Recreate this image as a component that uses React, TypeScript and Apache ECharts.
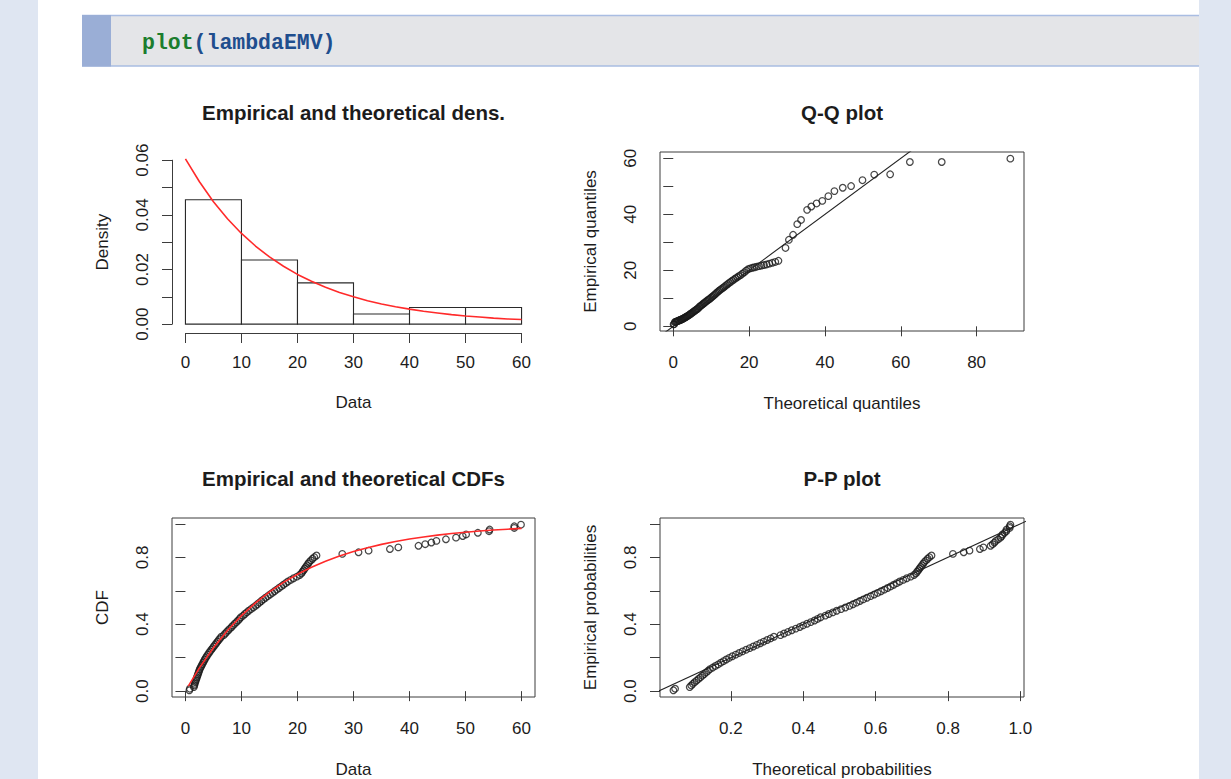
import { useEffect, useRef } from "react";
import * as echarts from "echarts";

const W = 1231;
const H = 779;
const FONT = '"Liberation Sans", Arial, Helvetica, sans-serif';
const MONO = '"Liberation Mono", "DejaVu Sans Mono", monospace';
const INK = "#1c1c1c";
const FRAME = "#3c3c3c";

// ---------- data ----------
// histogram (density scale)
const histBreaks = [0, 10, 20, 30, 40, 50, 60];
const histDensity = [0.0455, 0.0235, 0.0151, 0.0037, 0.0061, 0.0061];

// fitted (theoretical) density curve
const densCurveX = [0, 2.5, 5, 7.5, 10, 12.5, 15, 17.5, 20, 22.5, 25, 27.5, 30, 32.5, 35, 37.5, 40, 42.5, 45, 47.5, 50, 52.5, 55, 57.5, 60];
const densCurveY = [0.0605, 0.0521, 0.0448, 0.0386, 0.0332, 0.0286, 0.0246, 0.0212, 0.0182, 0.0157, 0.0135, 0.0116, 0.01, 0.0086, 0.0074, 0.0064, 0.0055, 0.0047, 0.0041, 0.0035, 0.003, 0.0026, 0.0022, 0.0019, 0.0017];

// fitted (theoretical) CDF curve
const cdfCurveX = [0.5, 2.5, 5, 7.5, 10, 12.5, 15, 17.5, 20, 22.5, 25, 27.5, 30, 32.5, 35, 37.5, 40, 42.5, 45, 47.5, 50, 52.5, 55, 57.5, 60];
const cdfCurveY = [0.0296, 0.1393, 0.2592, 0.3624, 0.4512, 0.5276, 0.5934, 0.6501, 0.6988, 0.7408, 0.7769, 0.808, 0.8347, 0.8577, 0.8775, 0.8946, 0.9093, 0.9219, 0.9328, 0.9422, 0.9502, 0.9571, 0.9631, 0.9682, 0.9727];

// sorted sample (empirical data)
const sampleSorted = [
  0.7, 0.78, 1.5, 1.58, 1.66, 1.75, 1.85, 1.95, 2.05, 2.15,
  2.25, 2.35, 2.45, 2.55, 2.7, 2.85, 3.0, 3.15, 3.3, 3.45,
  3.62, 3.8, 4.0, 4.2, 4.4, 4.62, 4.84, 5.06, 5.28, 5.5,
  5.72, 5.95, 6.18, 6.4, 6.85, 7.1, 7.38, 7.65, 7.95, 8.25,
  8.5, 8.8, 9.1, 9.4, 9.65, 9.9, 10.3, 10.6, 10.95, 11.3,
  11.7, 12.1, 12.5, 12.85, 13.2, 13.55, 13.9, 14.3, 14.7, 15.1,
  15.5, 15.9, 16.3, 16.7, 17.1, 17.5, 17.9, 18.3, 18.8, 19.3,
  19.9, 20.4, 20.7, 20.9, 21.1, 21.3, 21.5, 21.7, 21.9, 22.1,
  22.4, 22.7, 23.0, 23.4, 28.0, 30.9, 32.7, 36.5, 38.0, 41.6,
  42.8, 43.9, 44.8, 46.5, 48.3, 49.5, 50.1, 52.2, 54.2, 54.3,
  58.7, 58.7, 59.9,
];

// empirical probabilities (CDF y and P-P y)
const empiricalProbs = [
  0.0049, 0.0146, 0.0243, 0.034, 0.0437, 0.0534, 0.0631, 0.0728, 0.0825, 0.0922,
  0.1019, 0.1117, 0.1214, 0.1311, 0.1408, 0.1505, 0.1602, 0.1699, 0.1796, 0.1893,
  0.199, 0.2087, 0.2184, 0.2282, 0.2379, 0.2476, 0.2573, 0.267, 0.2767, 0.2864,
  0.2961, 0.3058, 0.3155, 0.3252, 0.335, 0.3447, 0.3544, 0.3641, 0.3738, 0.3835,
  0.3932, 0.4029, 0.4126, 0.4223, 0.432, 0.4417, 0.4515, 0.4612, 0.4709, 0.4806,
  0.4903, 0.5, 0.5097, 0.5194, 0.5291, 0.5388, 0.5485, 0.5583, 0.568, 0.5777,
  0.5874, 0.5971, 0.6068, 0.6165, 0.6262, 0.6359, 0.6456, 0.6553, 0.665, 0.6748,
  0.6845, 0.6942, 0.7039, 0.7136, 0.7233, 0.733, 0.7427, 0.7524, 0.7621, 0.7718,
  0.7816, 0.7913, 0.801, 0.8107, 0.8204, 0.8301, 0.8398, 0.8495, 0.8592, 0.8689,
  0.8786, 0.8883, 0.8981, 0.9078, 0.9175, 0.9272, 0.9369, 0.9466, 0.9563, 0.966,
  0.9757, 0.9854, 0.9951,
];

// theoretical quantiles (Q-Q x)
const theoreticalQuantiles = [
  0.08, 0.25, 0.41, 0.58, 0.75, 0.92, 1.09, 1.26, 1.44, 1.61,
  1.79, 1.97, 2.16, 2.34, 2.53, 2.72, 2.91, 3.1, 3.3, 3.5,
  3.7, 3.9, 4.11, 4.32, 4.53, 4.74, 4.96, 5.18, 5.4, 5.62,
  5.85, 6.08, 6.32, 6.56, 6.8, 7.04, 7.29, 7.55, 7.8, 8.06,
  8.33, 8.6, 8.87, 9.15, 9.43, 9.72, 10.01, 10.31, 10.61, 10.92,
  11.23, 11.55, 11.88, 12.21, 12.55, 12.9, 13.26, 13.62, 13.99, 14.37,
  14.75, 15.15, 15.56, 15.97, 16.4, 16.84, 17.29, 17.75, 18.23, 18.72,
  19.23, 19.75, 20.28, 20.84, 21.41, 22.01, 22.63, 23.27, 23.93, 24.63,
  25.35, 26.11, 26.91, 27.74, 29.6, 30.5, 31.6, 32.7, 33.7, 35.3,
  36.4, 37.8, 39.3, 40.9, 42.5, 44.7, 46.9, 49.9, 53.0, 57.2,
  62.4, 70.8, 88.9,
];

// theoretical probabilities (P-P x)
const theoreticalProbs = [
  0.0411, 0.0457, 0.0861, 0.0904, 0.0948, 0.0997, 0.1051, 0.1104, 0.1157, 0.121,
  0.1263, 0.1315, 0.1367, 0.1419, 0.1496, 0.1572, 0.1647, 0.1722, 0.1796, 0.187,
  0.1952, 0.2039, 0.2134, 0.2228, 0.232, 0.2421, 0.252, 0.2618, 0.2715, 0.2811,
  0.2905, 0.3002, 0.3098, 0.3189, 0.337, 0.3469, 0.3578, 0.3681, 0.3794, 0.3904,
  0.3995, 0.4102, 0.4207, 0.4311, 0.4396, 0.4479, 0.461, 0.4706, 0.4816, 0.4924,
  0.5044, 0.5162, 0.5276, 0.5374, 0.5471, 0.5565, 0.5657, 0.576, 0.586, 0.5959,
  0.6054, 0.6148, 0.6239, 0.6329, 0.6416, 0.6501, 0.6584, 0.6665, 0.6763, 0.6859,
  0.697, 0.706, 0.7112, 0.7146, 0.718, 0.7214, 0.7247, 0.728, 0.7313, 0.7345,
  0.7392, 0.7439, 0.7484, 0.7544, 0.8136, 0.8434, 0.8594, 0.8881, 0.8977, 0.9176,
  0.9233, 0.9282, 0.932, 0.9386, 0.9449, 0.9487, 0.9505, 0.9564, 0.9613, 0.9615,
  0.9705, 0.9705, 0.9725,
];

// reference line y = x (end values, clipped to the plot box)
const qqRefLine = [-10, 100];
const ppRefLine = [-0.1, 1.1];

// ticks and labels
const densXTicks = [0, 10, 20, 30, 40, 50, 60];
const densYLabels = [0, 0.02, 0.04, 0.06];
const qqXTicks = [0, 20, 40, 60, 80];
const qqYTicks = [0, 10, 20, 30, 40, 50, 60];
const qqYLabels = [0, 20, 40, 60];
const cdfXTicks = [0, 10, 20, 30, 40, 50, 60];
const probYTicks = [0, 0.2, 0.4, 0.6, 0.8, 1.0];
const probYLabels = [0, 0.4, 0.8];
const ppXTicks = [0.2, 0.4, 0.6, 0.8, 1.0];

const titles = [
  "Empirical and theoretical dens.",
  "Q-Q plot",
  "Empirical and theoretical CDFs",
  "P-P plot",
];

// ---------- layout ----------
type Panel = { left: number; top: number; width: number; height: number; xMin: number; xMax: number; yMin: number; yMax: number };
const P1: Panel = { left: 172, top: 152, width: 363, height: 179, xMin: -2.4, xMax: 62.4, yMin: -0.0025, yMax: 0.063 };
const P2: Panel = { left: 660, top: 152, width: 364, height: 179, xMin: -3.5, xMax: 92.5, yMin: -1.67, yMax: 62.27 };
const P3: Panel = { left: 172, top: 518, width: 363, height: 179, xMin: -2.4, xMax: 62.4, yMin: -0.035, yMax: 1.035 };
const P4: Panel = { left: 660, top: 518, width: 364, height: 179, xMin: 0.004, xMax: 1.01, yMin: -0.035, yMax: 1.035 };
const P1_AXIS_Y = 333;

const px = (p: Panel, v: number) => p.left + ((v - p.xMin) / (p.xMax - p.xMin)) * p.width;
const py = (p: Panel, v: number) => p.top + p.height - ((v - p.yMin) / (p.yMax - p.yMin)) * p.height;

const axisText = { color: INK, fontSize: 17, fontFamily: FONT };
const tickStyle = { show: true, length: 10, inside: false, lineStyle: { color: FRAME, width: 1 } };
const near = (arr: number[], v: number) => arr.some((a) => Math.abs(a - v) < 1e-9);

function gridOf(left: number, top: number, width: number, height: number, boxed: boolean) {
  return {
    left, top, width, height,
    containLabel: false,
    outerBoundsMode: "none",
    show: boxed,
    borderColor: FRAME,
    borderWidth: 1,
    backgroundColor: "rgba(0,0,0,0)",
  };
}

function hiddenAxis(gridIndex: number, min: number, max: number) {
  return { type: "value", gridIndex, min, max, show: false, splitLine: { show: false } };
}

function boxedX(gridIndex: number, p: Panel, ticks: number[], fmt: (v: number) => string, name: string) {
  return {
    type: "value", gridIndex, min: p.xMin, max: p.xMax, position: "bottom",
    axisLine: { show: false }, splitLine: { show: false },
    axisTick: { ...tickStyle, customValues: ticks },
    axisLabel: { ...axisText, margin: 23, customValues: ticks, formatter: fmt },
    name, nameLocation: "middle", nameGap: 64, nameTextStyle: { ...axisText },
  };
}

function boxedY(gridIndex: number, p: Panel, ticks: number[], labels: number[], fmt: (v: number) => string, name: string) {
  return {
    type: "value", gridIndex, min: p.yMin, max: p.yMax, position: "left",
    axisLine: { show: false }, splitLine: { show: false },
    axisTick: { ...tickStyle, customValues: ticks },
    axisLabel: { ...axisText, margin: 21, rotate: 90, customValues: labels, formatter: fmt },
    name, nameLocation: "middle", nameGap: 61, nameRotate: 90, nameTextStyle: { ...axisText },
  };
}

const scatterStyle = {
  type: "scatter",
  symbol: "circle",
  symbolSize: 6.6,
  itemStyle: { color: "rgba(0,0,0,0)", borderColor: "#1a1a1a", borderWidth: 1.25 },
  z: 2,
};

function buildOption() {
  const titleStyle = { color: INK, fontSize: 20.5, fontWeight: "bold", fontFamily: FONT };
  const panels = [P1, P2, P3, P4];

  const grids = [
    gridOf(P1.left, P1.top, P1.width, P1.height, false), // 0 histogram data
    gridOf(px(P1, 0), P1.top, px(P1, 60) - px(P1, 0), P1_AXIS_Y - P1.top, false), // 1 hist x axis
    gridOf(P1.left, py(P1, 0.06), P1.width, py(P1, 0) - py(P1, 0.06), false), // 2 hist y axis
    gridOf(P2.left, P2.top, P2.width, P2.height, true), // 3 QQ
    gridOf(P3.left, P3.top, P3.width, P3.height, true), // 4 CDF
    gridOf(P4.left, P4.top, P4.width, P4.height, true), // 5 PP
  ];

  const xAxis = [
    hiddenAxis(0, P1.xMin, P1.xMax),
    {
      type: "value", gridIndex: 1, min: densXTicks[0], max: densXTicks[densXTicks.length - 1], interval: 10,
      position: "bottom",
      axisLine: { show: true, lineStyle: { color: FRAME, width: 1 } },
      axisTick: { ...tickStyle },
      splitLine: { show: false },
      axisLabel: { ...axisText, margin: 21, showMinLabel: true, showMaxLabel: true },
      name: "Data", nameLocation: "middle", nameGap: 61, nameTextStyle: { ...axisText },
    },
    hiddenAxis(2, 0, 1),
    boxedX(3, P2, qqXTicks, (v: number) => String(Math.round(v)), "Theoretical quantiles"),
    boxedX(4, P3, cdfXTicks, (v: number) => String(Math.round(v)), "Data"),
    boxedX(5, P4, ppXTicks, (v: number) => v.toFixed(1), "Theoretical probabilities"),
  ];

  const yAxis = [
    hiddenAxis(0, P1.yMin, P1.yMax),
    hiddenAxis(1, 0, 1),
    {
      type: "value", gridIndex: 2, min: 0, max: 0.06, interval: 0.01, position: "left",
      axisLine: { show: true, lineStyle: { color: FRAME, width: 1 } },
      axisTick: { ...tickStyle },
      splitLine: { show: false },
      axisLabel: {
        ...axisText, margin: 21, rotate: 90, showMinLabel: true, showMaxLabel: true,
        formatter: (v: number) => (near(densYLabels, v) ? v.toFixed(2) : ""),
      },
      name: "Density", nameLocation: "middle", nameGap: 61, nameRotate: 90, nameTextStyle: { ...axisText },
    },
    boxedY(3, P2, qqYTicks, qqYLabels, (v: number) => String(Math.round(v)), "Empirical quantiles"),
    boxedY(4, P3, probYTicks, probYLabels, (v: number) => v.toFixed(1), "CDF"),
    boxedY(5, P4, probYTicks, probYLabels, (v: number) => v.toFixed(1), "Empirical probabilities"),
  ];

  const histData = histDensity.map((d, i) => [histBreaks[i], histBreaks[i + 1], d]);

  const series: any[] = [
    {
      type: "custom",
      xAxisIndex: 0,
      yAxisIndex: 0,
      data: histData,
      encode: { x: [0, 1], y: 2 },
      z: 2,
      renderItem: (_params: any, api: any) => {
        const a = api.coord([api.value(0), api.value(2)]);
        const b = api.coord([api.value(1), 0]);
        return {
          type: "rect",
          shape: { x: a[0], y: a[1], width: b[0] - a[0], height: b[1] - a[1] },
          style: { fill: "#ffffff", stroke: "#2a2a2a", lineWidth: 1.1 },
        };
      },
    },
    {
      type: "line",
      xAxisIndex: 0,
      yAxisIndex: 0,
      data: densCurveX.map((x, i) => [x, densCurveY[i]]),
      smooth: false,
      showSymbol: false,
      symbol: "none",
      clip: false,
      lineStyle: { color: "#ff2a2a", width: 1.6 },
      z: 4,
    },
    {
      ...scatterStyle,
      xAxisIndex: 3,
      yAxisIndex: 3,
      data: theoreticalQuantiles.map((t, i) => [t, sampleSorted[i]]),
    },
    {
      type: "line",
      xAxisIndex: 3,
      yAxisIndex: 3,
      data: qqRefLine.map((v) => [v, v]),
      showSymbol: false,
      symbol: "none",
      clip: true,
      lineStyle: { color: "#222", width: 1.1 },
      z: 4,
    },
    {
      ...scatterStyle,
      xAxisIndex: 4,
      yAxisIndex: 4,
      data: sampleSorted.map((s, i) => [s, empiricalProbs[i]]),
    },
    {
      type: "line",
      xAxisIndex: 4,
      yAxisIndex: 4,
      data: cdfCurveX.map((x, i) => [x, cdfCurveY[i]]),
      smooth: false,
      showSymbol: false,
      symbol: "none",
      lineStyle: { color: "#ff2a2a", width: 1.6 },
      z: 4,
    },
    {
      ...scatterStyle,
      xAxisIndex: 5,
      yAxisIndex: 5,
      data: theoreticalProbs.map((t, i) => [t, empiricalProbs[i]]),
    },
    {
      type: "line",
      xAxisIndex: 5,
      yAxisIndex: 5,
      data: ppRefLine.map((v) => [v, v]),
      showSymbol: false,
      symbol: "none",
      clip: true,
      lineStyle: { color: "#222", width: 1.1 },
      z: 4,
    },
  ];

  const title = titles.map((t, i) => ({
    text: t,
    left: panels[i].left + panels[i].width / 2,
    top: panels[i].top - 50,
    textAlign: "center",
    padding: 0,
    textStyle: titleStyle,
  }));

  const band = "#dfe6f2";
  const graphic = [
    { type: "rect", silent: true, z: -10, shape: { x: 0, y: 0, width: 38, height: H }, style: { fill: band } },
    { type: "rect", silent: true, z: -10, shape: { x: 1199, y: 0, width: W - 1199, height: H }, style: { fill: band } },
    { type: "rect", silent: true, z: -9, shape: { x: 82, y: 15, width: 1117, height: 51 }, style: { fill: "#e4e5e8" } },
    { type: "line", silent: true, z: -8, shape: { x1: 82, y1: 15.5, x2: 1199, y2: 15.5 }, style: { stroke: "#a9bde2", lineWidth: 1.5 } },
    { type: "line", silent: true, z: -8, shape: { x1: 82, y1: 66, x2: 1199, y2: 66 }, style: { stroke: "#a9bde2", lineWidth: 1.5 } },
    { type: "rect", silent: true, z: -7, shape: { x: 82, y: 15, width: 29, height: 51.5 }, style: { fill: "#9aaed6" } },
    {
      type: "text",
      silent: true,
      z: -6,
      x: 142,
      y: 43,
      style: {
        text: "{g|plot}{b|(lambdaEMV)}",
        verticalAlign: "middle",
        align: "left",
        fontFamily: MONO,
        fontSize: 21.5,
        fontWeight: "bold",
        rich: {
          g: { fill: "#1b7d2e", fontFamily: MONO, fontSize: 21.5, fontWeight: "bold" },
          b: { fill: "#1f4e8e", fontFamily: MONO, fontSize: 21.5, fontWeight: "bold" },
        },
      },
    },
  ];

  return {
    animation: false,
    backgroundColor: "#ffffff",
    title,
    grid: grids,
    xAxis,
    yAxis,
    series,
    graphic,
  };
}

export default function App() {
  const ref = useRef<HTMLDivElement>(null);
  useEffect(() => {
    if (!ref.current) return;
    const chart = echarts.init(ref.current, null, { renderer: "svg" });
    chart.setOption(buildOption() as any);
    return () => {
      chart.dispose();
    };
  }, []);
  return <div ref={ref} style={{ position: "fixed", left: 0, top: 0, width: W, height: H }} />;
}
